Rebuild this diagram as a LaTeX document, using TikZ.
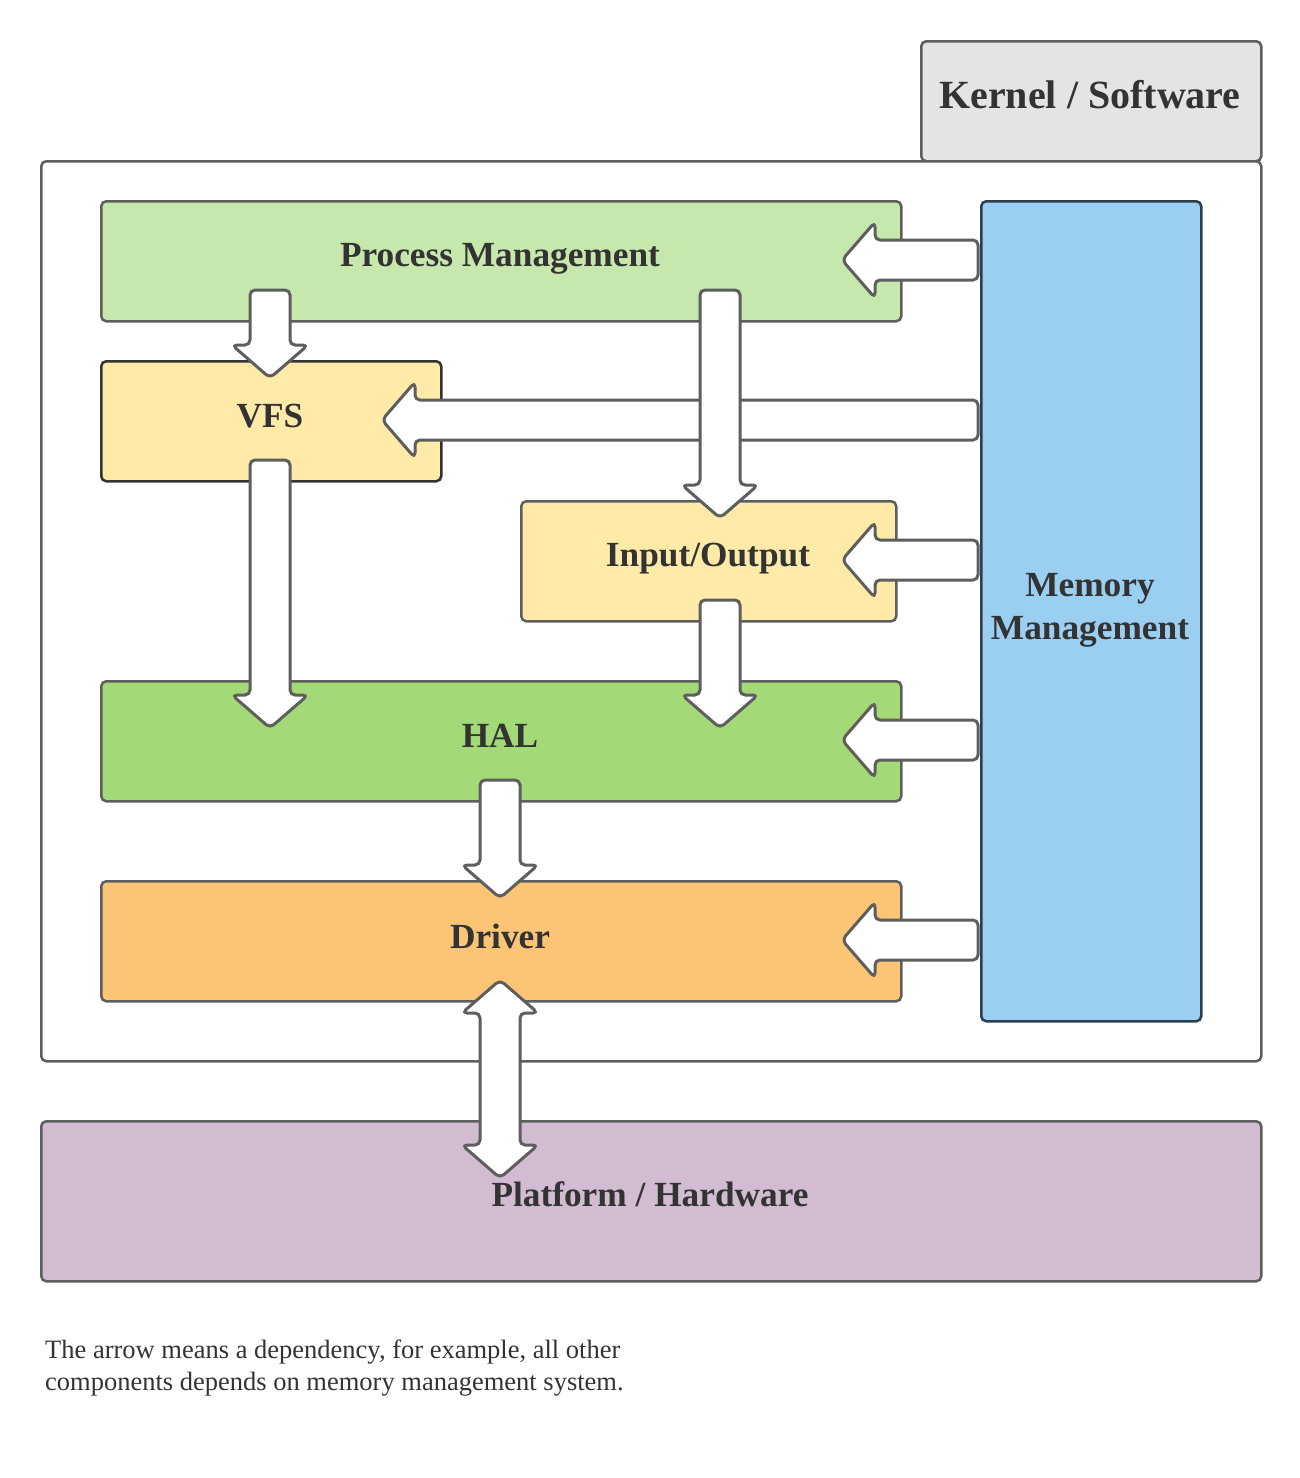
\documentclass[tikz,border=0pt]{standalone}
\usepackage{fontspec}
\setmainfont{Liberation Serif}
\usetikzlibrary{calc}
\definecolor{strokegray}{HTML}{5E5E5E}
\definecolor{txt}{HTML}{333333}
\definecolor{kernelfill}{HTML}{E4E4E4}
\definecolor{pmfill}{HTML}{C7E8AC}
\definecolor{vfsfill}{HTML}{FFEAA7}
\definecolor{halfill}{HTML}{A3D977}
\definecolor{drvfill}{HTML}{FCC475}
\definecolor{mmfill}{HTML}{9ACFF1}
\definecolor{mmstroke}{HTML}{2D3E4E}
\definecolor{hwfill}{HTML}{D1BCD2}
\tikzset{
  box/.style={draw=strokegray, line width=2.5pt, rounded corners=5pt, inner sep=0pt},
  lbl/.style={text=txt, font=\bfseries\fontsize{35.3}{43}\selectfont, align=center, inner sep=0pt},
  blk/.style={draw=strokegray, fill=white, line width=3pt, rounded corners=5pt, line join=round},
}
\newcommand\blockarrow[2]{%
  \draw[blk] let \p1=(#1), \p2=(#2), \n1={atan2(\y2-\y1,\x2-\x1)}, \n2={veclen(\x2-\x1,\y2-\y1)} in
    [shift={(\p1)}, rotate=\n1]
    (0,-20) -- (\n2-33,-20) -- (\n2-33,-38) -- (\n2,0) -- (\n2-33,38) -- (\n2-33,20) -- (0,20) -- cycle;}
\begin{document}
\begin{tikzpicture}[x=1pt,y=-1pt]
\useasboundingbox (0,0) rectangle (1300,1478);
% boxes
\node[box, fill=kernelfill, minimum width=340pt, minimum height=120pt, anchor=north west] (kernel) at (920,40) {};
\node[lbl, font=\bfseries\fontsize{40}{48}\selectfont] (kernelL) at (1090,95) {Kernel / Software};
\node[box, fill=white, minimum width=1220pt, minimum height=900pt, anchor=north west] (outer) at (40,160) {};
\node[box, fill=pmfill, minimum width=800pt, minimum height=120pt, anchor=north west] (pm) at (100,200) {};
\node[lbl] (pmL) at (500,259) {Process Management};
\node[box, fill=vfsfill, draw=txt, minimum width=340pt, minimum height=120pt, anchor=north west] (vfs) at (100,360) {};
\node[lbl] (vfsL) at (270,416) {VFS};
\node[box, fill=vfsfill, minimum width=375pt, minimum height=120pt, anchor=north west] (io) at (520,500) {};
\node[lbl] (ioL) at (708,559) {Input/Output};
\node[box, fill=halfill, minimum width=800pt, minimum height=120pt, anchor=north west] (hal) at (100,680) {};
\node[lbl] (halL) at (500,736) {HAL};
\node[box, fill=drvfill, minimum width=800pt, minimum height=120pt, anchor=north west] (drv) at (100,880) {};
\node[lbl] (drvL) at (500,936) {Driver};
\node[box, fill=mmfill, draw=mmstroke, minimum width=220pt, minimum height=820pt, anchor=north west] (mm) at (980,200) {};
\node[lbl] (mmL) at (1090,610) {Memory\\Management};
\node[box, fill=hwfill, minimum width=1220pt, minimum height=160pt, anchor=north west] (hw) at (40,1120) {};
\node[lbl] (hwL) at (650,1194) {Platform / Hardware};
% caption
\node[anchor=west, align=left, text=txt, font=\fontsize{26.5}{32}\selectfont, inner sep=0pt] (cap) at (45,1368)
  {The arrow means a dependency, for example, all other\\components depends on memory management system.};
% arrows
\coordinate (mmPM) at (978,260); \coordinate (tPM) at (842,260);
\coordinate (mmVFS) at (978,420); \coordinate (tVFS) at (382,420);
\coordinate (mmIO) at (978,560); \coordinate (tIO) at (842,560);
\coordinate (mmHAL) at (978,740); \coordinate (tHAL) at (842,740);
\coordinate (mmDRV) at (978,940); \coordinate (tDRV) at (842,940);
\blockarrow{mmPM}{tPM}
\blockarrow{mmVFS}{tVFS}
\blockarrow{mmIO}{tIO}
\blockarrow{mmHAL}{tHAL}
\blockarrow{mmDRV}{tDRV}
\coordinate (pmA) at (270,290); \coordinate (vfsT) at (270,378);
\coordinate (pmB) at (720,290); \coordinate (ioT) at (720,518);
\coordinate (vfsA) at (270,460); \coordinate (halT1) at (270,728);
\coordinate (ioA) at (720,600); \coordinate (halT2) at (720,728);
\coordinate (halA) at (500,780); \coordinate (drvT) at (500,898);
\blockarrow{pmA}{vfsT}
\blockarrow{pmB}{ioT}
\blockarrow{vfsA}{halT1}
\blockarrow{ioA}{halT2}
\blockarrow{halA}{drvT}
% double arrow driver <-> hardware
\coordinate (dTop) at (500,980); \coordinate (dBot) at (500,1178);
\draw[blk] (dTop) -- ($(dTop)+(38,33)$) -- ($(dTop)+(20,33)$) -- ($(dBot)+(20,-33)$) -- ($(dBot)+(38,-33)$)
  -- (dBot) -- ($(dBot)+(-38,-33)$) -- ($(dBot)+(-20,-33)$) -- ($(dTop)+(-20,33)$) -- ($(dTop)+(-38,33)$) -- cycle;
\end{tikzpicture}
\end{document}
